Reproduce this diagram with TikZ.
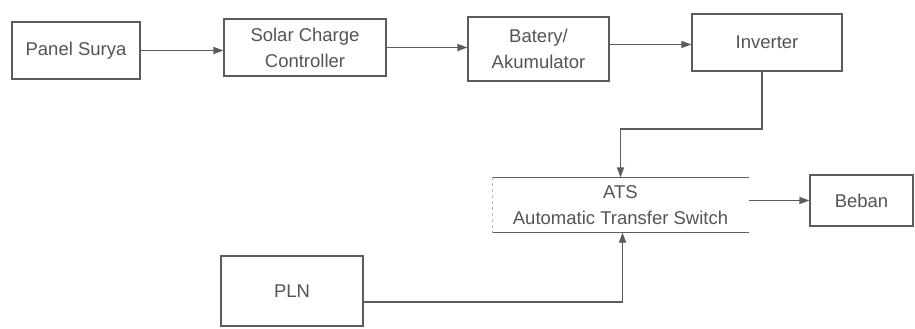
\documentclass[tikz,border=0pt]{standalone}
\usepackage{fontspec}
\setmainfont{Liberation Sans}
\usetikzlibrary{arrows.meta}
\definecolor{ln}{gray}{0.36}
\definecolor{tx}{gray}{0.33}
\begin{document}
\begin{tikzpicture}[x=1pt,y=-1pt,
  blk/.style={draw=ln,line width=1.1pt,inner sep=0pt,align=center,text=tx,
    font=\fontsize{18.5}{26}\selectfont},
  con/.style={draw=ln,line width=1.1pt},
  arr/.style={con,-{Triangle[length=10pt,width=7pt]}}]
\useasboundingbox (0,0) rectangle (915,329);
\node[blk,minimum width=128pt,minimum height=57pt] (panel) at (76,50.5) {Panel Surya};
\node[blk,minimum width=162pt,minimum height=57pt] (scc) at (305,47.5) {Solar Charge\\Controller};
\node[blk,minimum width=141pt,minimum height=64pt] (bat) at (538.5,49) {Batery/\\Akumulator};
\node[blk,minimum width=150pt,minimum height=57pt] (inv) at (767,42.5) {Inverter};
\node[blk,draw=none,minimum width=255pt,minimum height=54pt] (ats) at (620.5,205) {ATS\\Automatic Transfer Switch};
\draw[con] (ats.north west) -- (ats.north east);
\draw[con] (ats.south west) -- (ats.south east);
\draw[draw=ln!45,line width=0.8pt,dashed] (ats.north west) -- (ats.south west);
\node[blk,minimum width=103pt,minimum height=51pt] (beban) at (861.5,200.5) {Beban};
\node[blk,minimum width=142pt,minimum height=70pt] (pln) at (292,291) {PLN};
\coordinate (k) at (762,129);
\coordinate (p) at (0,302);
\draw[arr] (panel.east) -- (scc.west |- panel.east);
\draw[arr] (scc.east) -- (bat.west |- scc.east);
\draw[arr] (bat.east |- inv.west) ++(0,2) -- ([yshift=-2pt]inv.west);
\draw[arr] ([xshift=-5pt]inv.south) -- ([xshift=-5pt]inv.south |- k) -| (ats.north);
\draw[arr] (ats.east |- beban.west) -- (beban.west);
\draw[arr] (pln.east |- p) -| ([xshift=2pt]ats.south);
\end{tikzpicture}
\end{document}
